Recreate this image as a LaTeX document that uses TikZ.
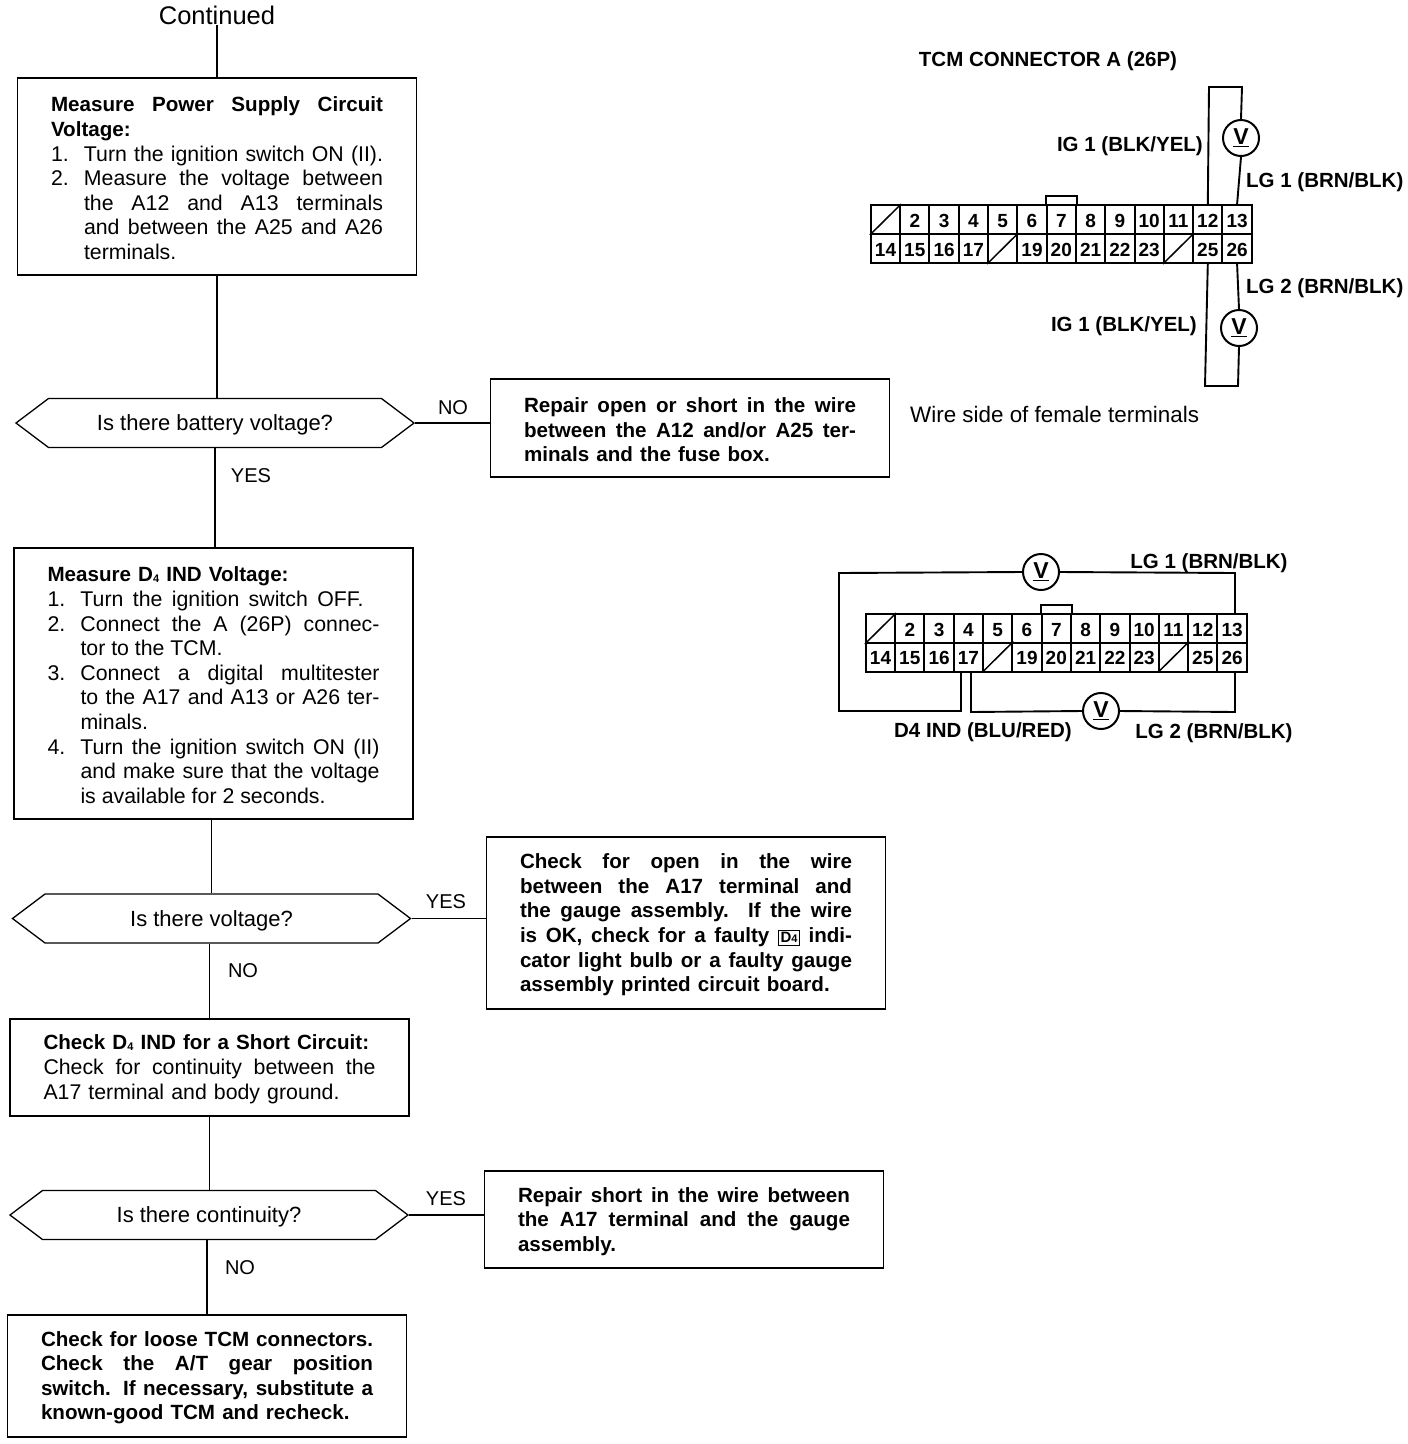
\documentclass[tikz,border=0pt]{standalone}
\usepackage{fontspec}
\setmainfont{Liberation Sans}
\usetikzlibrary{shapes.symbols}
\newcommand{\fullline}[1]{\makebox[332pt][s]{\spaceskip=0pt\xspaceskip=0pt #1}}
\newcommand{\stepline}[3][l]{\makebox[33pt][l]{#2}\makebox[299pt][#1]{\spaceskip=0pt\xspaceskip=0pt #3}}
\newcommand{\heavy}{\fontsize{20.6}{24.6}\selectfont\bfseries}
\newcommand{\dfour}{D\raisebox{-0.5pt}{\fontsize{11}{11}\selectfont 4}}
\tikzset{
	stepbox/.style={draw,line width=1.8pt,minimum width=399pt,inner sep=0pt,text width=332pt,align=left,font=\fontsize{21.3}{24.6}\selectfont,execute at begin node=\rule{0pt}{18.5pt}},
	askbox/.style={draw,line width=1.3pt,signal,signal to=east and west,signal pointer angle=74,minimum width=398pt,minimum height=49pt,inner sep=0pt,text height=15.5pt,text depth=0pt,font=\fontsize{22}{24}\selectfont},
	tag/.style={inner sep=0pt,font=\fontsize{20}{24}\selectfont},
	wirelabel/.style={inner sep=0pt,text height=15pt,text depth=0pt,font=\fontsize{20.5}{24}\selectfont\bfseries},
	cell/.style={draw,line width=2pt,minimum width=29.3pt,minimum height=29pt,inner sep=0pt,text height=15pt,text depth=0pt,font=\fontsize{19}{20}\selectfont\bfseries},
	meter/.style={circle,draw,line width=2pt,minimum size=36pt,inner sep=0pt,font=\fontsize{23}{24}\selectfont\bfseries},
	wire/.style={line width=1.9pt}
}
% one connector: #1 name prefix, (#2,#3) centre of terminal 1, #4 height of the lower row
\newcommand{\tcmblock}[4]{
	\foreach \n [count=\c from 0] in {,2,3,4,5,6,7,8,9,10,11,12,13}
		\node[cell] (#1\c) at ({#2+29.3*\c},#3) {\n};
	\foreach \n [count=\c from 0] in {14,15,16,17,,19,20,21,22,23,,25,26}
		\node[cell] (#1l\c) at ({#2+29.3*\c},#4) {\n};
	\draw[line width=1.5pt] (#10.south west) -- (#10.north east);
	\draw[line width=1.5pt] (#1l4.south west) -- (#1l4.north east);
	\draw[line width=1.5pt] (#1l10.south west) -- (#1l10.north east);
	\draw[wire] (#16.north west) -- ++(0,-8) -| (#16.north east);
}
\begin{document}
\begin{tikzpicture}[x=1pt,y=-1pt]
	\useasboundingbox (0,0) rectangle (1408,1444);
	% left column
	\node[tag,font=\fontsize{25.5}{28}\selectfont] (cont) at (217,15) {Continued};
	\node[stepbox,minimum height=197pt] (box1) at (217,176.5) {
		\fullline{\heavy Measure Power Supply Circuit}\\
		{\heavy Voltage:}\\
		\stepline[s]{1.}{Turn the ignition switch ON (II).}\\
		\stepline[s]{2.}{Measure the voltage between}\\
		\stepline[s]{}{the A12 and A13 terminals}\\
		\stepline[s]{}{and between the A25 and A26}\\
		\stepline{}{terminals.}};
	\node[askbox] (ask1) at (215,423) {Is there battery voltage?};
	\node[stepbox,minimum height=98pt] (box2) at (690,428) {\heavy
		\fullline{Repair open or short in the wire}\\
		\fullline{between the A12 and/or A25 ter-}\\
		minals and the fuse box.};
	\node[stepbox,minimum height=271pt] (box3) at (213.5,683.5) {
		{\heavy Measure \dfour{} IND Voltage:}\\
		\stepline{1.}{\makebox[283pt][s]{Turn the ignition switch OFF.}}\\
		\stepline[s]{2.}{Connect the A (26P) connec-}\\
		\stepline{}{tor to the TCM.}\\
		\stepline[s]{3.}{Connect a digital multitester}\\
		\stepline[s]{}{to the A17 and A13 or A26 ter-}\\
		\stepline{}{minals.}\\
		\stepline[s]{4.}{Turn the ignition switch ON (II)}\\
		\stepline[s]{}{and make sure that the voltage}\\
		\stepline{}{is available for 2 seconds.}};
	\node[askbox] (ask2) at (211.5,918.5) {Is there voltage?};
	\node[stepbox,minimum height=172pt] (box4) at (686,923) {\heavy
		\fullline{Check for open in the wire}\\
		\fullline{between the A17 terminal and}\\
		\fullline{the gauge assembly. If the wire}\\
		\fullline{is OK, check for a faulty \fboxsep=2pt\fbox{\fontsize{15}{15}\selectfont\dfour} indi-}\\
		\fullline{cator light bulb or a faulty gauge}\\
		assembly printed circuit board.};
	\node[stepbox,minimum height=97pt] (box5) at (209.5,1067.5) {
		{\heavy Check \dfour{} IND for a Short Circuit:}\\
		\fullline{Check for continuity between the}\\
		A17 terminal and body ground.};
	\node[askbox] (ask3) at (209,1215) {Is there continuity?};
	\node[stepbox,minimum height=97pt] (box6) at (684,1219.5) {\heavy
		\fullline{Repair short in the wire between}\\
		\fullline{the A17 terminal and the gauge}\\
		assembly.};
	\node[stepbox,minimum height=122pt] (box7) at (207,1376) {\heavy
		\fullline{Check for loose TCM connectors.}\\
		\fullline{Check the A/T gear position}\\
		\fullline{switch. If necessary, substitute a}\\
		known-good TCM and recheck.};
	\node[tag] (no1) at (453,408) {NO};
	\node[tag] (yes1) at (251,476) {YES};
	\node[tag] (yes2) at (446,902) {YES};
	\node[tag] (no2) at (243,971) {NO};
	\node[tag] (yes3) at (446,1199) {YES};
	\node[tag] (no3) at (240,1268) {NO};
	\draw[wire] (cont.south) -- (box1.north);
	\draw[wire] (box1.south) -- (box1.south |- ask1.north);
	\draw[wire] (ask1.east) -- (ask1.east -| box2.west);
	\draw[wire] (ask1.south) -- (ask1.south |- box3.north);
	\draw[wire] (ask2.north |- box3.south) -- (ask2.north);
	\draw[wire] (ask2.east) -- (ask2.east -| box4.west);
	\draw[wire] (box5.north |- ask2.south) -- (box5.north);
	\draw[wire] (box5.south) -- (box5.south |- ask3.north);
	\draw[wire] (ask3.east) -- (ask3.east -| box6.west);
	\draw[wire] (box7.north |- ask3.south) -- (box7.north);
	% upper connector
	\node[wirelabel] (title) at (1048,59) {TCM CONNECTOR A (26P)};
	\tcmblock{a}{885.5}{219.5}{248.5}
	\node[meter] (va) at (1241,138) {\underline{V}};
	\node[meter] (vb) at (1239,328) {\underline{V}};
	\coordinate (atl) at (1209,87);
	\coordinate (atr) at (1242,87);
	\coordinate (abl) at (1205,386);
	\coordinate (abr) at (1238,386);
	\draw[wire] (a11.north) -- (atl) -- (atr) -- (va.north);
	\draw[wire] (va.south) -- (a12.north);
	\draw[wire] (al11.south) -- (abl) -- (abr) -- (vb.south);
	\draw[wire] (vb.north) -- (al12.south);
	\node[wirelabel,anchor=east] (iga) at (1203,144) {IG 1 (BLK/YEL)};
	\node[wirelabel,anchor=west] (lga) at (1246,180) {LG 1 (BRN/BLK)};
	\node[wirelabel,anchor=west] (lgb) at (1246,286) {LG 2 (BRN/BLK)};
	\node[wirelabel,anchor=east] (igb) at (1197,324) {IG 1 (BLK/YEL)};
	\node[tag,anchor=west,font=\fontsize{22.4}{26}\selectfont] (side) at (910,414) {Wire side of female terminals};
	% lower connector
	\tcmblock{b}{880.5}{628.5}{657}
	\node[meter] (vc) at (1041,572) {\underline{V}};
	\node[meter] (vd) at (1101,711) {\underline{V}};
	\coordinate (btr) at (1235,573);
	\coordinate (btl) at (839,573);
	\coordinate (bbl) at (839,711);
	\coordinate (bbm) at (961,711);
	\coordinate (bbn) at (971,712);
	\coordinate (bbr) at (1235,712);
	\draw[wire] (b12.north -| btr) -- (btr) -- (vc.east);
	\draw[wire] (vc.west) -- (btl) -- (bbl) -- (bbm) -- (bl3.south -| bbm);
	\draw[wire] (bl3.south -| bbn) -- (bbn) -- (vd.west);
	\draw[wire] (vd.east) -- (bbr) -- (bl12.south -| bbr);
	\node[wirelabel] (lgc) at (1209,561) {LG 1 (BRN/BLK)};
	\node[wirelabel] (ind) at (983,730) {D4 IND (BLU/RED)};
	\node[wirelabel] (lgd) at (1214,731) {LG 2 (BRN/BLK)};
\end{tikzpicture}
\end{document}
